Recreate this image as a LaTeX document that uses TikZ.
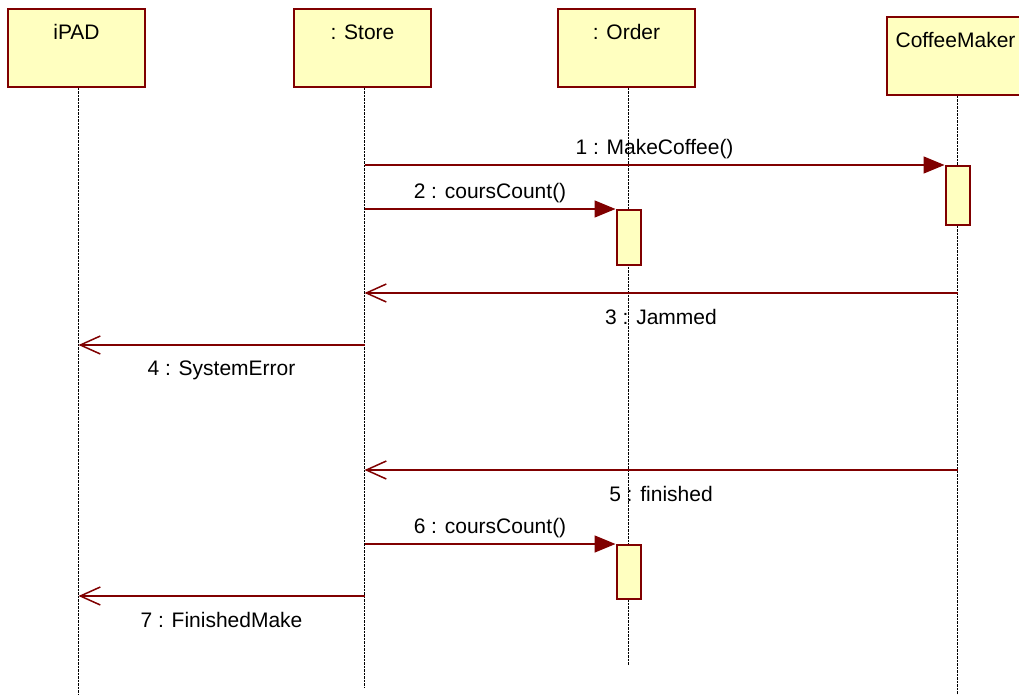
\documentclass[tikz,border=0pt]{standalone}
\usepackage{fontspec}
\setmainfont{Liberation Sans}
\usepackage{tikz}
\usetikzlibrary{positioning}
\usetikzlibrary{arrows.meta}
\definecolor{umlred}{RGB}{128,0,0}
\definecolor{umlfill}{RGB}{255,255,192}

\begin{document}
\begin{tikzpicture}[x=1pt, y=-1pt,
font=\fontsize{21}{25}\selectfont,
objectnode/.style={rectangle, draw=umlred, fill=umlfill, line width=2pt, minimum width=137pt, text height=31pt, text depth=47pt, inner sep=0pt},
activenode/.style={rectangle, draw=umlred, fill=umlfill, line width=2pt, minimum width=24pt, inner sep=0pt, anchor=north},
lifeline/.style={draw=black, line width=1.5pt, dash pattern=on 2.5pt off 1pt},
callmsg/.style={draw=umlred, line width=1.5pt, -{Triangle[length=21pt, width=17pt]}},
returnmsg/.style={draw=umlred, line width=1.5pt, -{Straight Barb[length=20pt, width=18pt]}},
]
\useasboundingbox (0,0) rectangle (1019,695);

%Nodes
\node[objectnode, anchor=north west]  (ipad)  at (7,8)                      {iPAD};
\node[objectnode]      (store)        [right=147pt of ipad]                  {: Store};
\node[objectnode]      (order)        [right=125pt of store]                 {: Order};
\node[objectnode]      (cm)           [right=190pt of order, yshift=-8pt]    {CoffeeMaker};

%Lifelines
\coordinate (ipadtop)  at ([xshift=2pt]ipad.south);
\coordinate (storetop) at ([xshift=2pt]store.south);
\coordinate (ordertop) at ([xshift=2pt]order.south);
\coordinate (cmtop)    at ([xshift=2pt]cm.south);
\coordinate (ipadend)  at (ipadtop |- 0,697);
\coordinate (storeend) at (storetop |- 0,688);
\coordinate (orderend) at (ordertop |- 0,665);
\coordinate (cmend)    at (cmtop |- 0,697);

\draw[lifeline] (ipadtop) -- (ipadend);
\draw[lifeline] (storetop) -- (storeend);
\draw[lifeline] (ordertop) -- (orderend);
\draw[lifeline] (cmtop) -- (cmend);

%Activations
\node[activenode, minimum height=59pt] (cmact)   at (cmtop |- 0,165)    {};
\node[activenode, minimum height=55pt] (ordact1) at (ordertop |- 0,209) {};
\node[activenode, minimum height=54pt] (ordact2) at (ordertop |- 0,544) {};

\coordinate (jam)  at (cmtop |- 0,293);
\coordinate (err)  at (storetop |- 0,345);
\coordinate (fin)  at (cmtop |- 0,470);
\coordinate (done) at (storetop |- 0,596);

%Lines
\draw[callmsg] (storetop |- cmact.north) -- (cmact.north west) node[midway, above=2pt] {1 : MakeCoffee()};
\draw[callmsg] (storetop |- ordact1.north) -- (ordact1.north west) node[midway, above=2pt] {2 : coursCount()};
\draw[returnmsg] (jam) -- (storetop |- jam) node[midway, below=12pt] {3 : Jammed};
\draw[returnmsg] (err) -- (ipadtop |- err) node[midway, below=12pt] {4 : SystemError};
\draw[returnmsg] (fin) -- (storetop |- fin) node[midway, below=12pt] {5 : finished};
\draw[callmsg] (storetop |- ordact2.north) -- (ordact2.north west) node[midway, above=2pt] {6 : coursCount()};
\draw[returnmsg] (done) -- (ipadtop |- done) node[midway, below=12pt] {7 : FinishedMake};
\end{tikzpicture}
\end{document}
